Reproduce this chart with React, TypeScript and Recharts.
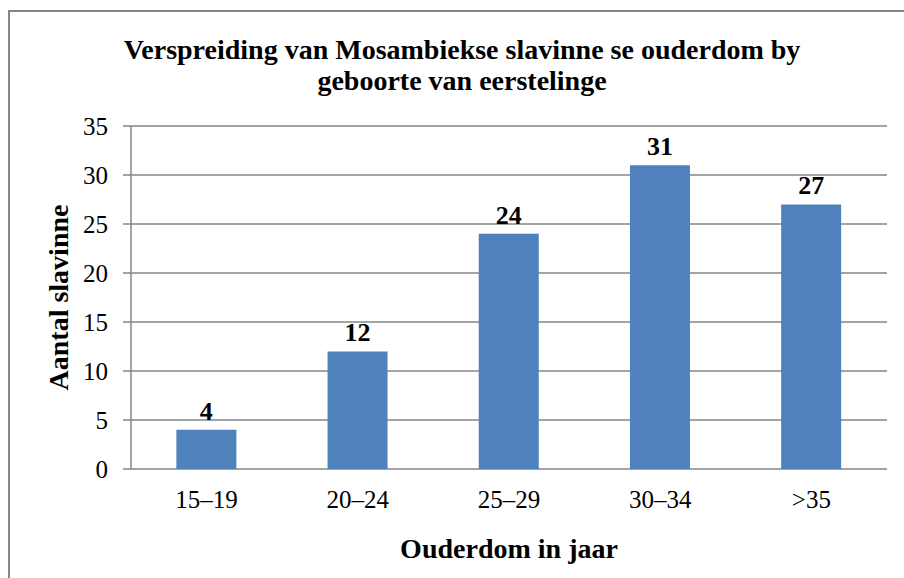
import React from 'react';
import { BarChart, Bar, XAxis, YAxis, CartesianGrid, LabelList, Label } from 'recharts';

const categories = ['15–19', '20–24', '25–29', '30–34', '>35'];
const counts = [4, 12, 24, 31, 27];
const yTicks = [0, 5, 10, 15, 20, 25, 30, 35];
const boundaryTicks = [0, 1, 2, 3, 4, 5];

const data = categories.map((c, i) => ({ name: c, value: counts[i], pos: i + 0.5 }));

const FONT = '"Liberation Serif", "Times New Roman", serif';
const GRAY = '#868686';

export default function App() {
  return (
    <div style={{ position: 'absolute', left: 0, top: 0, width: 904, height: 578, background: '#fff', fontFamily: FONT, overflow: 'hidden' }}>
      <div style={{ position: 'absolute', left: 8, top: 10, width: 1000, height: 700, border: `2px solid ${GRAY}`, boxSizing: 'border-box' }} />
      <div style={{ position: 'absolute', left: 62, top: 34, width: 800, textAlign: 'center', fontWeight: 'bold', fontSize: 28, lineHeight: '31px', color: '#000' }}>
        Verspreiding van Mosambiekse slavinne se ouderdom by<br />geboorte van eerstelinge
      </div>
      <div style={{ position: 'absolute', left: 0, top: 0 }}>
        <BarChart width={904} height={578} data={data} margin={{ top: 126, right: 17, left: 0, bottom: 0 }} barCategoryGap="30%">
          <CartesianGrid horizontal vertical={false} stroke={GRAY} strokeWidth={1.5} />
          <XAxis xAxisId="b" type="number" dataKey="pos" domain={[0, 5]} ticks={boundaryTicks} height={0}
            axisLine={{ stroke: GRAY, strokeWidth: 1.5 }} tickLine={{ stroke: GRAY, strokeWidth: 1.5 }} tickSize={7} tick={false} />
          <XAxis xAxisId="a" dataKey="name" height={109} axisLine={false} tickLine={false}
            tick={{ fill: '#000', fontSize: 25, fontFamily: FONT }} dy={13}>
            <Label value="Ouderdom in jaar" position="insideBottom" offset={20} style={{ fontWeight: 'bold', fontSize: 28, fill: '#000', fontFamily: FONT }} />
          </XAxis>
          <YAxis domain={[0, 35]} ticks={yTicks} width={131} interval={0}
            axisLine={{ stroke: GRAY, strokeWidth: 1.5 }} tickLine={{ stroke: GRAY, strokeWidth: 1.5 }} tickSize={8}
            tick={{ fill: '#000', fontSize: 25, fontFamily: FONT }} tickMargin={15}>
            <Label value="Aantal slavinne" angle={-90} position="insideLeft" offset={58}
              style={{ fontWeight: 'bold', fontSize: 28, fill: '#000', fontFamily: FONT, textAnchor: 'middle' }} />
          </YAxis>
          <Bar dataKey="value" xAxisId="a" fill="#4F81BD" isAnimationActive={false}>
            <LabelList dataKey="value" position="top" offset={10} style={{ fontWeight: 'bold', fontSize: 26, fill: '#000', fontFamily: FONT }} />
          </Bar>
        </BarChart>
      </div>
    </div>
  );
}
